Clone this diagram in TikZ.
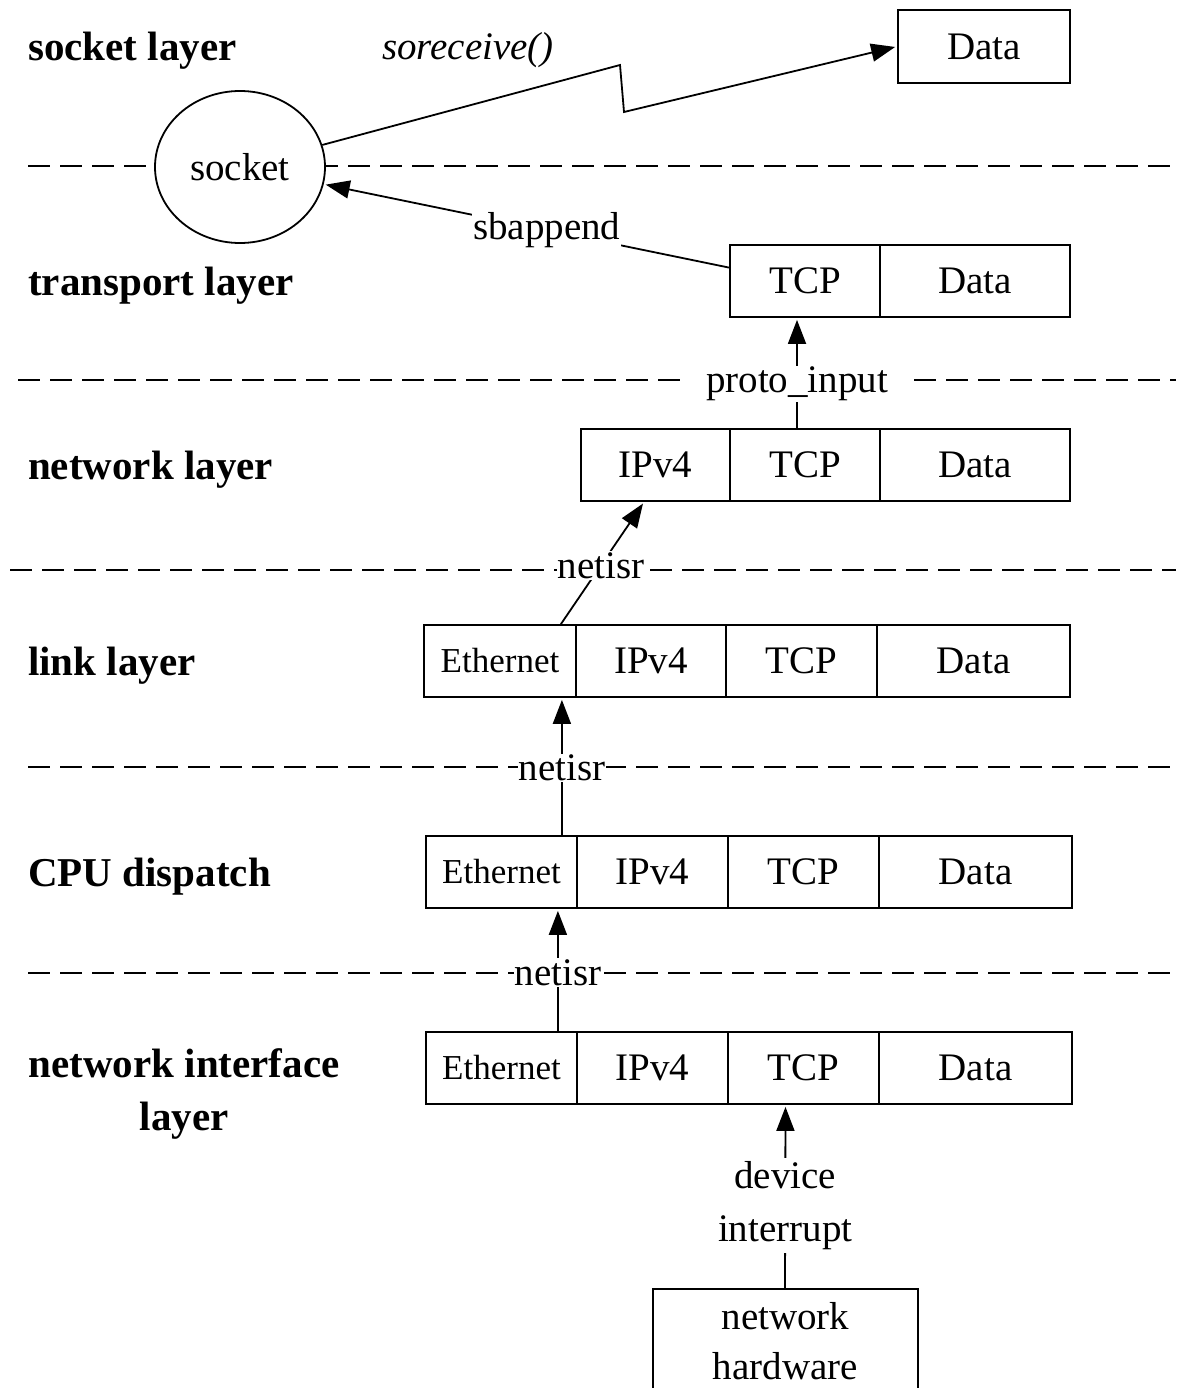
\documentclass[tikz,border=0pt]{standalone}
\usepackage{fontspec}
\setmainfont{Liberation Serif}
\usetikzlibrary{arrows.meta,shapes.geometric}
\tikzset{
pkcell/.style={rectangle,draw,line width=1.8pt,fill=white,minimum height=72pt,inner sep=0pt,font=\fontsize{39}{47}\selectfont},
pketh/.style={pkcell,font=\fontsize{35}{42}\selectfont},
pklayer/.style={anchor=west,inner sep=0pt,font=\fontsize{41}{53}\selectfont\bfseries},
pksock/.style={ellipse,draw,line width=1.8pt,fill=white,minimum width=170pt,minimum height=152pt,inner sep=0pt,font=\fontsize{39}{47}\selectfont},
pkdash/.style={line width=2pt,dash pattern=on 22pt off 10pt},
pkarr/.style={-{Triangle[length=24pt,width=18pt]},line width=1.8pt,shorten >=2pt},
pklabel/.style={fill=white,inner sep=1pt,font=\fontsize{39}{52}\selectfont,align=center}
}
\begin{document}
\begin{tikzpicture}[x=1pt,y=-1pt]
\clip (0,0) rectangle (1176,1388);
% layer separators
\draw[pkdash] (28,166) -- (1176,166);
\draw[pkdash] (18,380) -- (1176,380);
\draw[pkdash] (10,570) -- (1176,570);
\draw[pkdash] (28,767) -- (1176,767);
\draw[pkdash] (28,973) -- (1176,973);
% layer names
\node[pklayer] (lsocket) at (28,51) {socket layer};
\node[pklayer] (ltransport) at (28,286) {transport layer};
\node[pklayer] (lnetwork) at (28,470) {network layer};
\node[pklayer] (llink) at (28,666) {link layer};
\node[pklayer] (lcpu) at (28,877) {CPU dispatch};
\node[pklayer,anchor=center,align=center] (lni) at (184,1094) {network interface\\layer};
% socket layer
\node[pksock] (socket) at (240,167) {socket};
\node[pkcell,minimum width=172pt,minimum height=73pt] (topdata) at (984,46.5) {Data};
\node[pklabel,fill=none,font=\fontsize{39}{52}\selectfont\itshape] (soreceive) at (468,50) {soreceive()};
\coordinate (zz1) at (620,65);
\coordinate (zz2) at (624,112);
% transport layer
\node[pkcell,minimum width=150pt] (ttcp) at (805,281) {TCP};
\node[pkcell,minimum width=190pt] (tdata) at (975,281) {Data};
% network layer
\node[pkcell,minimum width=149pt] (nip) at (655.5,465) {IPv4};
\node[pkcell,minimum width=150pt] (ntcp) at (805,465) {TCP};
\node[pkcell,minimum width=190pt] (ndata) at (975,465) {Data};
% link layer
\node[pketh,minimum width=152pt] (leth) at (500,661) {Ethernet};
\node[pkcell,minimum width=150pt] (lip) at (651,661) {IPv4};
\node[pkcell,minimum width=151pt] (ltcp) at (801.5,661) {TCP};
\node[pkcell,minimum width=193pt] (ldata) at (973.5,661) {Data};
% CPU dispatch
\node[pketh,minimum width=151pt] (ceth) at (501.5,872) {Ethernet};
\node[pkcell,minimum width=151pt] (cip) at (652.5,872) {IPv4};
\node[pkcell,minimum width=151pt] (ctcp) at (803.5,872) {TCP};
\node[pkcell,minimum width=193pt] (cdata) at (975.5,872) {Data};
% network interface layer
\node[pketh,minimum width=151pt] (ieth) at (501.5,1068) {Ethernet};
\node[pkcell,minimum width=151pt] (iip) at (652.5,1068) {IPv4};
\node[pkcell,minimum width=151pt] (itcp) at (803.5,1068) {TCP};
\node[pkcell,minimum width=193pt] (idata) at (975.5,1068) {Data};
% hardware
\node[pkcell,minimum width=265pt,minimum height=104pt,align=center,anchor=north,font=\fontsize{39}{50}\selectfont] (hw) at (785.5,1288) {network\\hardware};
% connectors
\draw[pkarr] (socket.15) -- (zz1) -- (zz2) -- (topdata.west);
\draw[pkarr] (ttcp.170) -- node[pklabel,pos=0.45]{sbappend} (socket);
\draw[pkarr] ([xshift=-8pt]ntcp.north) -- node[pklabel,inner xsep=22pt,pos=0.4]{proto\_input} ([xshift=-8pt]ttcp.south);
\draw[pkarr] ([xshift=-16pt]leth.north east) -- node[pklabel,pos=0.48]{netisr} ([xshift=64pt]nip.south west);
\draw[pkarr] ([xshift=-16pt]ceth.north east) -- node[pklabel,pos=0.49]{netisr} ([xshift=-15pt]leth.south east);
\draw[pkarr] ([xshift=-20pt]ieth.north east) -- node[pklabel,pos=0.48]{netisr} ([xshift=-20pt]ceth.south east);
\draw[pkarr] ([xshift=-0.5pt]hw.north) -- node[pklabel,pos=0.45,inner ysep=4pt]{device\\interrupt} ([xshift=-18pt]itcp.south);
\end{tikzpicture}
\end{document}
